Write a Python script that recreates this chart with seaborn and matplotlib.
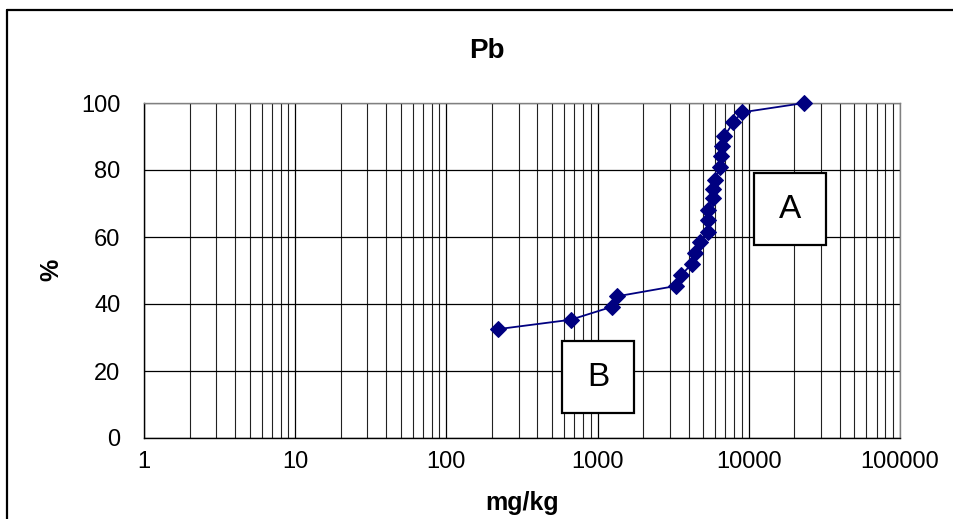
import matplotlib
matplotlib.use("Agg")
import matplotlib.pyplot as plt
import seaborn as sns
import numpy as np
import pandas as pd
from matplotlib.ticker import LogLocator, FixedLocator, FuncFormatter, NullFormatter
from matplotlib.lines import Line2D
from matplotlib.patches import Rectangle

# ---- data ----
conc_mg_kg = [220, 664, 1250, 1349, 3311, 3562, 4210, 4430, 4755, 5350, 5370, 5380,
              5770, 5830, 5950, 6450, 6540, 6680, 6890, 7900, 8980, 23300]
percent = [32.5, 35.3, 39.2, 42.3, 45.4, 48.6, 52.0, 55.3, 58.4, 61.4, 65.0, 68.0,
           71.5, 74.2, 77.0, 80.8, 84.2, 87.2, 90.1, 94.2, 97.2, 100.0]
title = "Pb"
x_label = "mg/kg"
y_label = "%"
x_ticks = [1, 10, 100, 1000, 10000, 100000]
y_ticks = [0, 20, 40, 60, 80, 100]
box_labels = ["A", "B"]

df = pd.DataFrame({"conc": conc_mg_kg, "pct": percent})

sns.set_style("white")
plt.rcParams["font.family"] = ["Liberation Sans", "DejaVu Sans"]
plt.rcParams["text.color"] = "black"
plt.rcParams["xtick.color"] = "black"
plt.rcParams["ytick.color"] = "black"
plt.rcParams["axes.labelcolor"] = "black"

W, H = 954, 519
fig = plt.figure(figsize=(W / 100, H / 100), dpi=100)
fig.patch.set_facecolor("white")

L, R, T, B = 144, 900, 103, 438
ax = fig.add_axes([L / W, 1 - B / H, (R - L) / W, (B - T) / H])

ax.set_xscale("log")
ax.set_xlim(1, 100000)
ax.set_ylim(0, 100)

# grid
ax.xaxis.set_major_locator(FixedLocator(x_ticks))
ax.xaxis.set_minor_locator(LogLocator(base=10, subs=np.arange(2, 10)))
ax.xaxis.set_minor_formatter(NullFormatter())
ax.xaxis.set_major_formatter(FuncFormatter(lambda v, p: f"{int(round(v))}"))
ax.set_yticks(y_ticks)
ax.grid(True, which="major", axis="both", color="black", linewidth=0.9)
ax.grid(True, which="minor", axis="x", color="#222222", linewidth=0.8)
ax.set_axisbelow(True)

sns.lineplot(data=df, x="conc", y="pct", sort=False, ax=ax, color="#000080",
             linewidth=1.3, marker="D", markersize=8, markeredgecolor="#000080",
             markerfacecolor="#000080", zorder=5, clip_on=False)

ax.set_xlabel("")
ax.set_ylabel("")

ax.tick_params(axis="x", which="major", direction="out", length=6, width=1,
               color="black", labelsize=17, pad=3, labelcolor="black")
ax.tick_params(axis="x", which="minor", length=0)
ax.tick_params(axis="y", which="major", direction="out", length=10, width=1,
               color="black", labelsize=17, pad=7, labelcolor="black")

for s in ["left", "bottom"]:
    ax.spines[s].set_color("black")
    ax.spines[s].set_linewidth(1.0)
for s in ["top", "right"]:
    ax.spines[s].set_color("#808080")
    ax.spines[s].set_linewidth(1.0)

# titles
fig.text(487 / W, 1 - 51 / H, title, ha="center", va="center",
         fontsize=20, fontweight="bold", color="black")
fig.text(522 / W, 1 - 503 / H, x_label, ha="center", va="center",
         fontsize=18, fontweight="bold", color="black")
fig.text(51 / W, 1 - 270 / H, y_label, ha="center", va="center",
         fontsize=18, fontweight="bold", rotation=90, color="black")

# text boxes A and B
boxes = [(754, 173, 826, 245), (562, 341, 634, 413)]
for lab, (x0, y0, x1, y1) in zip(box_labels, boxes):
    rect = Rectangle((x0 / W, 1 - y1 / H), (x1 - x0) / W, (y1 - y0) / H,
                     transform=fig.transFigure, facecolor="white",
                     edgecolor="black", linewidth=1.6, zorder=10)
    fig.add_artist(rect)
    fig.text((x0 + x1) / 2 / W, 1 - (y0 + y1) / 2 / H, lab, ha="center",
             va="center", fontsize=24, zorder=11, color="black")

# outer chart border (cropped on right and bottom)
fig.add_artist(Line2D([7 / W, 1.0], [1 - 10 / H, 1 - 10 / H], color="black",
                      linewidth=1.6, transform=fig.transFigure))
fig.add_artist(Line2D([7 / W, 7 / W], [1 - 10 / H, 0.0], color="black",
                      linewidth=1.6, transform=fig.transFigure))

fig.savefig("out.png", dpi=100, facecolor="white")
